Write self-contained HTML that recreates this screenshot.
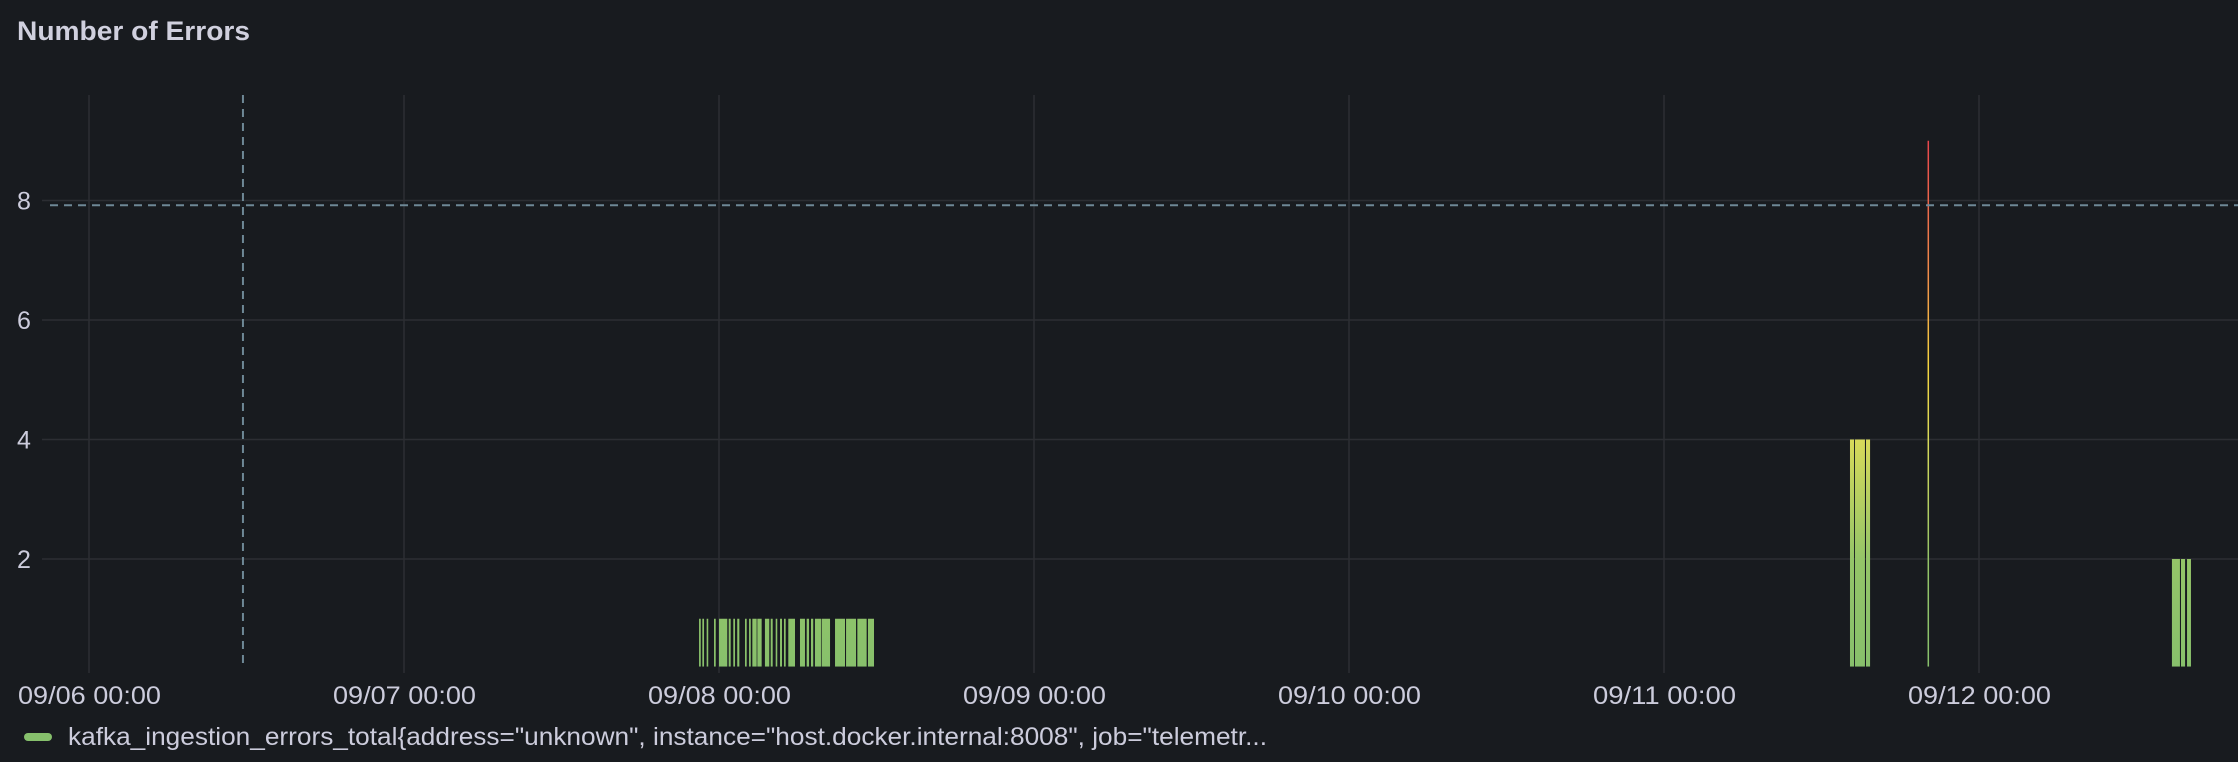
<!DOCTYPE html>
<html><head><meta charset="utf-8"><style>
html,body{margin:0;padding:0;background:#181b1f;width:2238px;height:762px;overflow:hidden}
svg{display:block}
text{font-family:"Liberation Sans",sans-serif;fill:#ccccdc}
</style></head><body>
<svg id="chart" width="2238" height="762" xmlns="http://www.w3.org/2000/svg">
<defs>
<linearGradient id="valgrad" gradientUnits="userSpaceOnUse" x1="0" y1="678" x2="0" y2="140">
<stop offset="0" stop-color="#86c06c"/>
<stop offset="0.22" stop-color="#94c468"/>
<stop offset="0.44" stop-color="#d6d95a"/>
<stop offset="0.58" stop-color="#f4d43f"/>
<stop offset="0.75" stop-color="#f08c4a"/>
<stop offset="1" stop-color="#e8454c"/>
</linearGradient>
</defs>
<text x="17" y="40" font-size="27" font-weight="bold" textLength="233" lengthAdjust="spacingAndGlyphs" style="fill:#d0d0de">Number of Errors</text>
<g id="grid"></g>
<g id="bars"></g>
<g id="overlay"></g>
<g id="axes"></g>
<g>
<rect x="24" y="733" width="28" height="8" rx="4" fill="#86c06c"/>
<text x="68" y="745" font-size="25" textLength="1199" lengthAdjust="spacingAndGlyphs">kafka_ingestion_errors_total{address="unknown", instance="host.docker.internal:8008", job="telemetr...</text>
</g>
</svg>
<script>
// data (hours since 09/06 00:00)
const dayLabels = ["09/06 00:00","09/07 00:00","09/08 00:00","09/09 00:00","09/10 00:00","09/11 00:00","09/12 00:00"];
const yTicks = [2,4,6,8];
const barStart = [46.48,46.73,47.06,47.62,48.00,48.74,49.09,49.39,49.98,50.29,50.54,50.92,51.50,51.94,52.32,52.65,52.95,53.28,54.17,54.68,55.01,55.31,55.82,56.84,57.68,58.54,59.35,134.17,134.55,135.39,140.08,158.70,159.39,159.85];
const barEnd   = [46.61,46.86,47.18,47.75,48.63,48.89,49.22,49.55,50.11,50.42,50.87,51.25,51.83,52.09,52.44,52.80,53.08,53.79,54.55,54.86,55.18,55.77,56.46,57.60,58.44,59.25,59.81,134.48,135.31,135.70,140.19,159.31,159.70,160.15];
const barValues= [1,1,1,1,1,1,1,1,1,1,1,1,1,1,1,1,1,1,1,1,1,1,1,1,1,1,1,4,4,4,9,2,2,2];
const thresholdValue = 7.92;
const annotationHour = 11.73;
const yMin = 0.2;

const NS="http://www.w3.org/2000/svg";
function xs(h){return 89 + h*315/24;}
function ys(v){return 559 - (v-2)*59.75;}
function mk(tag,attrs,parent){const e=document.createElementNS(NS,tag);for(const k in attrs)e.setAttribute(k,attrs[k]);parent.appendChild(e);return e;}
const grid=document.getElementById('grid'),bars=document.getElementById('bars'),ov=document.getElementById('overlay'),axes=document.getElementById('axes');

yTicks.forEach(function(v){
  const l=mk('line',{x1:42,x2:2238,y1:ys(v),y2:ys(v),stroke:'#2c2e33','stroke-width':1.5},grid);
  
  
  const t=mk('text',{x:17,y:ys(v)+9,'font-size':25},axes);
  t.textContent=String(v);
  
  
});
dayLabels.forEach(function(lab,i){
  const x=xs(i*24);
  const l=mk('line',{x1:x,x2:x,y1:95,y2:673,stroke:'#2c2e33','stroke-width':1.5},grid);
  
  
  const t=mk('text',{x:x-71,y:704,'font-size':25,textLength:143,lengthAdjust:'spacingAndGlyphs'},axes);
  t.textContent=lab;
  
  
});
barStart.forEach(function(s,i){
  const x0=xs(s),x1=xs(barEnd[i]);
  const r=mk('rect',{x:x0,y:ys(barValues[i]),width:Math.max(1.5,x1-x0),height:ys(yMin)-ys(barValues[i]),fill:'url(#valgrad)'},bars);
  
  
});
const th=mk('line',{x1:50,x2:2238,y1:ys(thresholdValue),y2:ys(thresholdValue),stroke:'#6e8896','stroke-width':2,'stroke-dasharray':'8 6'},ov);


const an=mk('line',{x1:xs(annotationHour),x2:xs(annotationHour),y1:95,y2:665,stroke:'#6e8896','stroke-width':2,'stroke-dasharray':'8 6'},ov);


</script>
</body></html>
